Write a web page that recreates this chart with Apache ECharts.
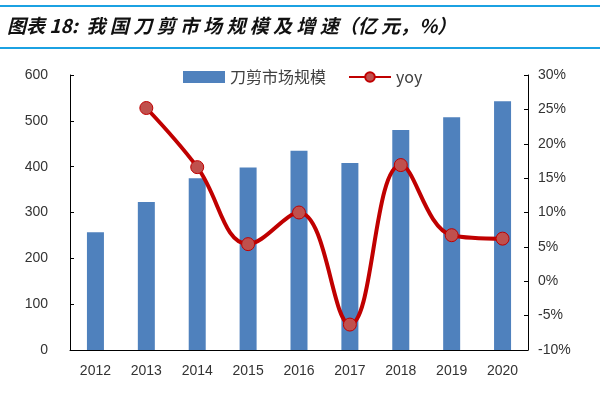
<!DOCTYPE html>
<html><head><meta charset="utf-8">
<script src="https://cdn.jsdelivr.net/npm/echarts@6/dist/echarts.min.js"></script>
<style>html,body{margin:0;background:#fff}#myChart{width:600px;height:400px}</style>
</head><body><div id="myChart"></div>
<script>
var years = ['2012','2013','2014','2015','2016','2017','2018','2019','2020'];
var marketSize = [257, 323, 375, 398, 435, 408, 480, 508, 543];
var yoy = [null, 25.2, 16.6, 5.4, 10.0, -6.3, 16.9, 6.7, 6.2];

var myChart = echarts.init(document.getElementById('myChart'));
var font = '"Noto Sans CJK SC", sans-serif';
var option = {
    animation: false,
    title: {
        text: '图表 18:  我 国 刀 剪 市 场 规 模 及 增 速（亿 元，%）',
        left: 2, top: 11,
        textStyle: { fontSize: 19, fontStyle: 'italic', fontWeight: 'bold', color: '#111', fontFamily: font }
    },
    graphic: [
        { type: 'rect', shape: { x: 0, y: 5, width: 600, height: 2 }, style: { fill: '#1ba1e2' } },
        { type: 'rect', shape: { x: 0, y: 47, width: 600, height: 2 }, style: { fill: '#1ba1e2' } }
    ],
    legend: {
        top: 64, left: 178, itemGap: 22,
        textStyle: { fontSize: 16, color: '#404040', fontFamily: font },
        data: [
            { name: '刀剪市场规模', icon: 'rect' },
            { name: 'yoy' }
        ],
        itemWidth: 42, itemHeight: 12
    },
    grid: { left: 70, right: 72, top: 75, bottom: 50 },
    xAxis: {
        type: 'category',
        data: years,
        axisLine: { lineStyle: { color: '#000' } },
        axisTick: { show: false },
        axisLabel: { fontSize: 14, color: '#333', margin: 14 }
    },
    yAxis: [
        {
            type: 'value', min: 0, max: 600, interval: 100,
            splitLine: { show: false },
            axisLine: { show: true, lineStyle: { color: '#000' } },
            axisTick: { show: true, length: 4, inside: true },
            axisLabel: { fontSize: 14, color: '#333', margin: 22 }
        },
        {
            type: 'value', min: -10, max: 30, interval: 5,
            splitLine: { show: false },
            axisLine: { show: true, lineStyle: { color: '#000' } },
            axisTick: { show: true, length: 4, inside: true },
            axisLabel: { fontSize: 14, color: '#333', formatter: '{value}%', margin: 10 }
        }
    ],
    series: [
        {
            name: '刀剪市场规模', type: 'bar', data: marketSize,
            barWidth: 17,
            itemStyle: { color: '#4f81bd' }
        },
        {
            name: 'yoy', type: 'line', yAxisIndex: 1, data: yoy,
            smooth: 0.4, symbol: 'circle', symbolSize: 13,
            lineStyle: { color: '#c00000', width: 4 },
            itemStyle: { color: '#c0504d', borderColor: '#c00000', borderWidth: 1 }
        }
    ]
};
myChart.setOption(option);
</script></body></html>
